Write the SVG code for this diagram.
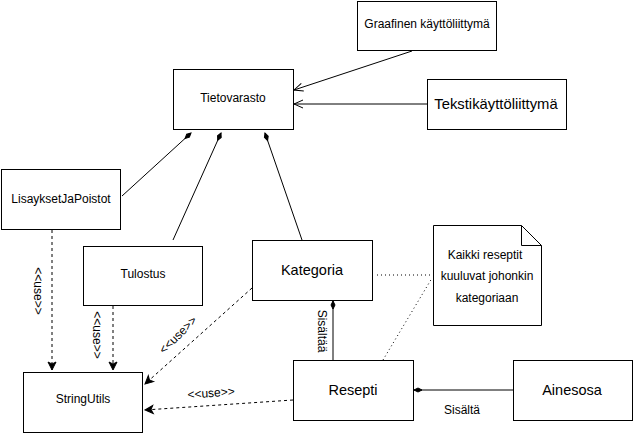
<svg xmlns="http://www.w3.org/2000/svg" width="634" height="435" viewBox="0 0 634 435">
<defs>
<style>
.box{fill:#fff;stroke:#000;stroke-width:1}
.t{font-family:"Liberation Sans",Arial,sans-serif;fill:#000;text-anchor:middle;dominant-baseline:central}
.s12{font-size:12px}
.s14{font-size:14.5px}
.s16{font-size:14.8px}
.lbl{font-family:"Liberation Sans",Arial,sans-serif;font-size:12px;fill:#000;text-anchor:middle;dominant-baseline:central}
.solid{stroke:#000;stroke-width:1;fill:none}
.dash{stroke:#000;stroke-width:1;fill:none;stroke-dasharray:3,3}
.dot{stroke:#000;stroke-width:1;fill:none;stroke-dasharray:1,3}
</style>
<marker id="open" viewBox="-10 -6 12 12" refX="0" refY="0" markerWidth="12" markerHeight="12" markerUnits="userSpaceOnUse" orient="auto">
<path d="M-9,-4 L0,0 L-9,4" fill="none" stroke="#000" stroke-width="1"/>
</marker>
<marker id="filled" viewBox="-10 -6 12 12" refX="0" refY="0" markerWidth="12" markerHeight="12" markerUnits="userSpaceOnUse" orient="auto">
<path d="M-8,-4 L0,0 L-8,4 L-6,0 Z" fill="#000" stroke="#000" stroke-width="1"/>
</marker>
<marker id="diamond" viewBox="-10 -5 12 10" refX="0" refY="0" markerWidth="12" markerHeight="10" markerUnits="userSpaceOnUse" orient="auto">
<path d="M-8,0 L-4,-2 L0,0 L-4,2 Z" fill="#000" stroke="#000" stroke-width="1"/>
</marker>
</defs>
<rect width="634" height="435" fill="#fff"/>
<g id="connectors">
<line class="solid" x1="412" y1="51" x2="294" y2="90" marker-end="url(#open)"/>
<line class="solid" x1="427" y1="104" x2="294" y2="104" marker-end="url(#open)"/>
<line class="solid" x1="122" y1="196" x2="191" y2="133" marker-end="url(#diamond)"/>
<line class="solid" x1="173" y1="240" x2="221" y2="133" marker-end="url(#diamond)"/>
<line class="solid" x1="302" y1="240" x2="265" y2="133" marker-end="url(#diamond)"/>
<line class="solid" x1="333" y1="360" x2="333" y2="301" marker-end="url(#diamond)"/>
<line class="solid" x1="513" y1="390" x2="414" y2="390" marker-end="url(#diamond)"/>
<line class="dash" x1="52" y1="230" x2="52" y2="370" marker-end="url(#filled)"/>
<line class="dash" x1="113" y1="306" x2="113" y2="370" marker-end="url(#filled)"/>
<line class="dash" x1="252" y1="288" x2="145" y2="384" marker-end="url(#filled)"/>
<line class="dash" x1="293" y1="400" x2="145" y2="410" marker-end="url(#filled)"/>
<line class="dot" x1="377" y1="275" x2="432" y2="275"/>
<line class="dot" x1="383" y1="360" x2="432" y2="278"/>
<text class="lbl" transform="translate(38,291) rotate(90)">&lt;&lt;use&gt;&gt;</text>
<text class="lbl" transform="translate(97,335) rotate(90)">&lt;&lt;use&gt;&gt;</text>
<text class="lbl" transform="translate(178,335) rotate(-45)">&lt;&lt;use&gt;&gt;</text>
<text class="lbl" transform="translate(211,393) rotate(-4)">&lt;&lt;use&gt;&gt;</text>
<text class="lbl" transform="translate(322,331) rotate(90)">Sisältää</text>
<text class="lbl" x="462" y="410">Sisältä</text>
</g>
<g id="graafinen">
<rect class="box" x="357.5" y="1.5" width="139" height="49"/>
<text class="t s12" x="427" y="24">Graafinen käyttöliittymä</text>
</g>
<g id="tietovarasto">
<rect class="box" x="173.5" y="69.5" width="120" height="60"/>
<text class="t s12" x="233" y="98">Tietovarasto</text>
</g>
<g id="tekstikayttoliittyma">
<rect class="box" x="427.5" y="79.5" width="139" height="50"/>
<text class="t s16" x="496" y="104">Tekstikäyttöliittymä</text>
</g>
<g id="lisayksetjapoistot">
<rect class="box" x="1.5" y="169.5" width="119" height="60"/>
<text class="t s12" x="61" y="199">LisayksetJaPoistot</text>
</g>
<g id="tulostus">
<rect class="box" x="83.5" y="246.5" width="119" height="59"/>
<text class="t s12" x="143" y="274">Tulostus</text>
</g>
<g id="kategoria">
<rect class="box" x="252.5" y="240.5" width="120" height="60"/>
<text class="t s14" x="312" y="270">Kategoria</text>
</g>
<g id="note">
<path class="box" d="M433.5,225.5 L521.5,225.5 L541.5,245.5 L541.5,325.5 L433.5,325.5 Z"/>
<path class="solid" d="M521.5,225.5 L521.5,245.5 L541.5,245.5"/>
<text class="t s12" x="485" y="255">Kaikki reseptit</text>
<text class="t s12" x="487" y="276">kuuluvat johonkin</text>
<text class="t s12" x="487" y="298">kategoriaan</text>
</g>
<g id="stringutils">
<rect class="box" x="23.5" y="372.5" width="119" height="60"/>
<text class="t s12" x="83" y="399">StringUtils</text>
</g>
<g id="resepti">
<rect class="box" x="293.5" y="360.5" width="120" height="60"/>
<text class="t s14" x="353" y="390">Resepti</text>
</g>
<g id="ainesosa">
<rect class="box" x="513.5" y="360.5" width="119" height="60"/>
<text class="t s14" x="572" y="390">Ainesosa</text>
</g>
</svg>
